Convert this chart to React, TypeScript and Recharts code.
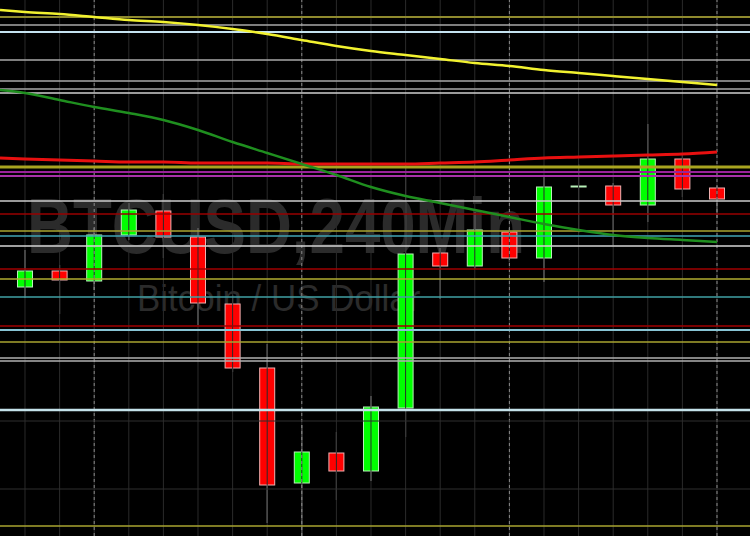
import { ComposedChart, Bar, Line, XAxis, YAxis, ReferenceLine } from "recharts";

// candle index 0..20, MAs also have a leading point at the left edge (-0.72)
const candleIdx = [0, 1, 2, 3, 4, 5, 6, 7, 8, 9, 10, 11, 12, 13, 14, 15, 16, 17, 18, 19, 20];
const opens = [9049, 9065, 9055, 9101, 9125, 9099, 9032, 8968, 8853, 8883, 8865, 8928, 9083, 9070, 9104, 9078, 9149, 9150, 9131, 9177, 9148];
const highs = [9086, 9071, 9108, 9133, 9142, 9108, 9041, 8992, 8911, 8904, 8940, 9173, 9088, 9124, 9108, 9159, 9172, 9153, 9212, 9183, 9150];
const lows = [9038, 9022, 9046, 9096, 9078, 9011, 8964, 8813, 8800, 8836, 8855, 8899, 9037, 9067, 9074, 9054, 9103, 9091, 9114, 9139, 9118];
const closes = [9065, 9056, 9101, 9126, 9099, 9033, 8968, 8851, 8884, 8865, 8929, 9082, 9070, 9106, 9078, 9149, 9150, 9131, 9177, 9147, 9137];

// moving averages: first value is the left edge, then one per candle
const maLong = [9326, 9324, 9322, 9319, 9316, 9314, 9311, 9307, 9302, 9296, 9290, 9285, 9281, 9277, 9273, 9270, 9266, 9263, 9260, 9257, 9254, 9251];
const maMid = [9178, 9177, 9176, 9175, 9174, 9174, 9173, 9173, 9173, 9172, 9172, 9172, 9172, 9173, 9174, 9176, 9178, 9179, 9180, 9181, 9182, 9184];
const maShort = [9246, 9243, 9236, 9229, 9223, 9216, 9206, 9194, 9183, 9172, 9161, 9149, 9140, 9133, 9126, 9119, 9112, 9106, 9101, 9098, 9096, 9094];

// horizontal levels
const levels = [
  { v: 9319, c: "#8f8a2e", w: 2 },
  { v: 9311, c: "#a8a8a8", w: 1.5 },
  { v: 9304, c: "#c4e2f0", w: 2 },
  { v: 9276, c: "#a8a8a8", w: 1.5 },
  { v: 9255, c: "#a8a8a8", w: 1.5 },
  { v: 9247, c: "#a8a8a8", w: 1.5 },
  { v: 9243, c: "#cfcfcf", w: 1.5 },
  { v: 9169, c: "#a8a420", w: 3 },
  { v: 9164, c: "#9a229a", w: 2 },
  { v: 9160, c: "#a832a8", w: 2 },
  { v: 9135, c: "#cccccc", w: 1.5 },
  { v: 9122, c: "#990000", w: 1.5 },
  { v: 9105, c: "#a8a430", w: 1.5 },
  { v: 9100, c: "#40a4b4", w: 1.5 },
  { v: 9090, c: "#d4d4d4", w: 1.5 },
  { v: 9067, c: "#a00000", w: 1.5 },
  { v: 9057, c: "#b0ac30", w: 1.5 },
  { v: 9039, c: "#40a0a4", w: 1.5 },
  { v: 9010, c: "#a00000", w: 1.5 },
  { v: 9006, c: "#88c4d4", w: 2 },
  { v: 8994, c: "#a8a430", w: 1.5 },
  { v: 8978, c: "#b0b0b0", w: 1.5 },
  { v: 8975, c: "#b0b0b0", w: 1.5 },
  { v: 8926, c: "#c4e2ea", w: 2.5 },
  { v: 8915, c: "#2e2e2e", w: 1 },
  { v: 8847, c: "#2e2e2e", w: 1 },
  { v: 8810, c: "#a8a430", w: 1.5 },
];

const dottedIdx = [2, 8, 14, 20];

const data = [
  { i: -0.7225, long: maLong[0], mid: maMid[0], short: maShort[0] },
  ...candleIdx.map((i, k) => ({
    i,
    o: opens[k],
    h: highs[k],
    l: lows[k],
    c: closes[k],
    long: maLong[k + 1],
    mid: maMid[k + 1],
    short: maShort[k + 1],
  })),
];

const Candle = (props: any) => {
  const { x, y, width, height, payload } = props;
  if (payload == null || payload.h == null) return null;
  const top = Math.min(y, y + height);
  const hgt = Math.abs(height);
  const range = payload.h - payload.l;
  const k = range > 0 ? hgt / range : 0;
  const cx = x + width / 2;
  const up = payload.c >= payload.o;
  const bodyTop = top + (payload.h - Math.max(payload.o, payload.c)) * k;
  const bodyH = Math.max(1, Math.abs(payload.o - payload.c) * k);
  return (
    <g>
      <line x1={cx} x2={cx} y1={top} y2={top + hgt} stroke="#c4c4c4" strokeWidth={1} />
      <rect
        x={x}
        y={bodyTop}
        width={width}
        height={bodyH}
        fill={up ? "#00ff00" : "#ff0000"}
        stroke={up ? "#b8f0b8" : "#f0b0b0"}
        strokeWidth={1}
      />
    </g>
  );
};

export default function App() {
  return (
    <div
      style={{
        position: "absolute",
        left: 0,
        top: 0,
        width: 750,
        height: 536,
        background: "#000",
        overflow: "hidden",
      }}
    >
      <div
        style={{
          position: "absolute",
          left: 27,
          top: 187,
          fontFamily: "'Liberation Sans', Arial, sans-serif",
          fontWeight: 700,
          fontSize: 78,
          lineHeight: 1,
          color: "#2b2b2b",
          whiteSpace: "nowrap",
          transform: "scaleX(0.815)",
          transformOrigin: "left top",
        }}
      >
        BTCUSD,240Min
      </div>
      <div
        style={{
          position: "absolute",
          left: 137,
          top: 281,
          fontFamily: "'Liberation Sans', Arial, sans-serif",
          fontSize: 36,
          lineHeight: 1,
          color: "#2b2b2b",
          whiteSpace: "nowrap",
          transform: "scaleX(0.97)",
          transformOrigin: "left top",
        }}
      >
        Bitcoin / US Dollar
      </div>
      <div style={{ position: "absolute", left: 0, top: 0 }}>
        <ComposedChart width={750} height={536} data={data} margin={{ top: 0, right: 0, bottom: 0, left: 0 }}>
          <XAxis dataKey="i" type="number" domain={[-0.7225, 20.954]} hide allowDataOverflow />
          <YAxis type="number" domain={[8800, 9336]} hide allowDataOverflow />
          {candleIdx.map((i) => (
            <ReferenceLine key={"v" + i} x={i} stroke="#2a2a2a" strokeWidth={1} />
          ))}
          {dottedIdx.map((i) => (
            <ReferenceLine key={"d" + i} x={i} stroke="#8a8a8a" strokeWidth={1} strokeDasharray="3 3" />
          ))}
          {levels.map((lv, k) => (
            <ReferenceLine key={"h" + k} y={lv.v} stroke={lv.c} strokeWidth={lv.w} />
          ))}
          <Line dataKey="long" type="monotone" stroke="#f2f230" strokeWidth={2.5} dot={false} activeDot={false} isAnimationActive={false} />
          <Line dataKey="mid" type="monotone" stroke="#e81010" strokeWidth={3} dot={false} activeDot={false} isAnimationActive={false} />
          <Line dataKey="short" type="monotone" stroke="#1f8f1f" strokeWidth={2.5} dot={false} activeDot={false} isAnimationActive={false} />
          <Bar
            dataKey={(d: any) => (d.h == null ? null : [d.l, d.h])}
            barSize={15}
            shape={Candle}
            isAnimationActive={false}
          />
        </ComposedChart>
      </div>
    </div>
  );
}
